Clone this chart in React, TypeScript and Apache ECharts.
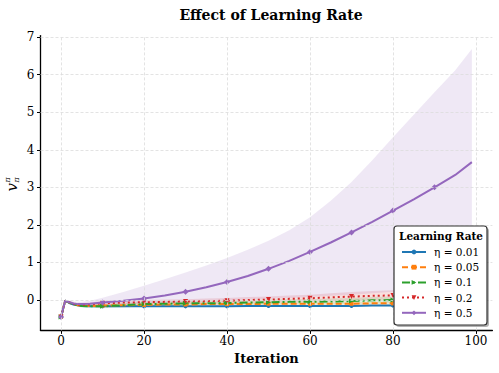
import React, { useEffect, useRef } from "react";
import * as echarts from "echarts";

// Iterations
const xs = [0, 1, 2, 3, 4, 5, 7, 10, 15, 20, 25, 30, 35, 40, 45, 50, 55, 60, 65, 70, 75, 80, 85, 90, 95, 99];

const names = ["η = 0.01", "η = 0.05", "η = 0.1", "η = 0.2", "η = 0.5"];
const colors = ["#1f77b4", "#ff7f0e", "#2ca02c", "#d62728", "#9467bd"];

const mean001 = [-0.45, -0.02, -0.08, -0.12, -0.14, -0.16, -0.17, -0.17, -0.17, -0.17, -0.17, -0.17, -0.17, -0.17, -0.16, -0.16, -0.16, -0.16, -0.16, -0.16, -0.15, -0.15, -0.15, -0.15, -0.15, -0.15];
const lo001 = [-0.45, -0.03, -0.1, -0.14, -0.16, -0.18, -0.19, -0.19, -0.19, -0.19, -0.19, -0.19, -0.19, -0.19, -0.18, -0.18, -0.18, -0.18, -0.18, -0.18, -0.17, -0.17, -0.17, -0.17, -0.17, -0.17];
const hi001 = [-0.45, -0.01, -0.06, -0.1, -0.12, -0.14, -0.15, -0.15, -0.15, -0.15, -0.15, -0.15, -0.15, -0.15, -0.14, -0.14, -0.14, -0.14, -0.14, -0.14, -0.13, -0.13, -0.13, -0.13, -0.13, -0.13];

const mean005 = [-0.45, -0.02, -0.07, -0.11, -0.14, -0.15, -0.16, -0.15, -0.14, -0.13, -0.12, -0.12, -0.11, -0.11, -0.11, -0.1, -0.1, -0.1, -0.1, -0.1, -0.09, -0.09, -0.09, -0.09, -0.09, -0.09];
const lo005 = [-0.45, -0.04, -0.1, -0.14, -0.17, -0.18, -0.19, -0.19, -0.18, -0.17, -0.16, -0.16, -0.15, -0.15, -0.15, -0.14, -0.14, -0.14, -0.14, -0.14, -0.13, -0.13, -0.13, -0.13, -0.13, -0.13];
const hi005 = [-0.45, 0.0, -0.04, -0.08, -0.11, -0.12, -0.13, -0.11, -0.1, -0.09, -0.08, -0.08, -0.07, -0.07, -0.07, -0.06, -0.06, -0.06, -0.06, -0.06, -0.05, -0.05, -0.05, -0.05, -0.05, -0.05];

const mean01 = [-0.45, -0.02, -0.07, -0.11, -0.14, -0.16, -0.17, -0.17, -0.14, -0.11, -0.1, -0.09, -0.09, -0.08, -0.07, -0.06, -0.05, -0.05, -0.04, -0.03, -0.01, 0.0, 0.01, 0.02, 0.02, 0.03];
const lo01 = [-0.45, -0.04, -0.1, -0.14, -0.18, -0.2, -0.21, -0.22, -0.2, -0.17, -0.16, -0.15, -0.15, -0.14, -0.14, -0.13, -0.12, -0.12, -0.12, -0.11, -0.1, -0.09, -0.09, -0.08, -0.08, -0.08];
const hi01 = [-0.45, 0.0, -0.04, -0.08, -0.1, -0.12, -0.13, -0.12, -0.08, -0.05, -0.04, -0.03, -0.03, -0.02, 0.0, 0.01, 0.02, 0.02, 0.04, 0.05, 0.08, 0.09, 0.11, 0.12, 0.12, 0.14];

const mean02 = [-0.45, -0.02, -0.06, -0.1, -0.12, -0.13, -0.12, -0.09, -0.07, -0.06, -0.05, -0.04, -0.03, -0.02, 0.0, 0.01, 0.03, 0.045, 0.07, 0.09, 0.11, 0.12, 0.14, 0.15, 0.16, 0.17];
const lo02 = [-0.45, -0.04, -0.1, -0.14, -0.16, -0.18, -0.17, -0.15, -0.13, -0.12, -0.11, -0.1, -0.1, -0.09, -0.08, -0.07, -0.06, -0.05, -0.04, -0.03, -0.02, -0.02, -0.01, 0.0, 0.0, 0.0];
const hi02 = [-0.45, 0.0, -0.02, -0.06, -0.08, -0.08, -0.07, -0.03, -0.01, 0.0, 0.01, 0.02, 0.04, 0.05, 0.08, 0.09, 0.12, 0.14, 0.18, 0.21, 0.24, 0.26, 0.29, 0.3, 0.32, 0.34];

const mean05 = [-0.45, -0.02, -0.06, -0.09, -0.11, -0.11, -0.1, -0.07, -0.02, 0.04, 0.12, 0.22, 0.34, 0.48, 0.64, 0.83, 1.04, 1.28, 1.53, 1.8, 2.08, 2.38, 2.68, 3.0, 3.33, 3.67];
const lo05 = [-0.45, -0.03, -0.1, -0.13, -0.14, -0.14, -0.13, -0.12, -0.1, -0.09, -0.07, -0.05, -0.03, -0.01, 0.01, 0.03, 0.05, 0.08, 0.11, 0.14, 0.18, 0.22, 0.27, 0.31, 0.36, 0.4];
const hi05 = [-0.44, 0.0, -0.02, -0.04, -0.05, -0.05, -0.02, 0.06, 0.21, 0.38, 0.55, 0.73, 0.92, 1.12, 1.34, 1.58, 1.86, 2.2, 2.64, 3.14, 3.72, 4.33, 4.93, 5.53, 6.12, 6.68];

const means = [mean001, mean005, mean01, mean02, mean05];
const lows = [lo001, lo005, lo01, lo02, lo05];
const highs = [hi001, hi005, hi01, hi02, hi05];

const xTicks = [0, 20, 40, 60, 80, 100];
const yTicks = [0, 1, 2, 3, 4, 5, 6, 7];

const symbols = ["circle", "rect", "triangle", "triangle", "diamond"];
const symbolRotates = [0, 0, -90, 180, 0];
const symbolSizes = [4, 4, 5, 5, 6];
const dashes: any[] = ["solid", [6, 3], [8, 3, 2, 3], [2, 3], "solid"];

const SERIF = "'DejaVu Serif', serif";

function hexToRgba(hex: string, a: number) {
  const r = parseInt(hex.slice(1, 3), 16);
  const g = parseInt(hex.slice(3, 5), 16);
  const b = parseInt(hex.slice(5, 7), 16);
  return `rgba(${r},${g},${b},${a})`;
}

export default function App() {
  const ref = useRef<HTMLDivElement>(null);
  useEffect(() => {
    if (!ref.current) return;
    const chart = echarts.init(ref.current, null, { renderer: "svg" });

    const bandSeries = names.map((n, k) => ({
      type: "custom",
      name: "band " + n,
      z: 1,
      silent: true,
      data: xs.map((x, i) => [x, lows[k][i], highs[k][i]]),
      encode: { x: 0, y: [1, 2] },
      renderItem: (params: any, api: any) => {
        if (params.dataIndex !== 0) return null;
        const pts: number[][] = [];
        for (let i = 0; i < xs.length; i++) pts.push(api.coord([xs[i], highs[k][i]]));
        for (let i = xs.length - 1; i >= 0; i--) pts.push(api.coord([xs[i], lows[k][i]]));
        return {
          type: "polygon",
          shape: { points: pts },
          style: { fill: hexToRgba(colors[k], 0.15), stroke: "none" },
        };
      },
    }));

    const lineSeries = names.map((n, k) => ({
      type: "line",
      name: n,
      z: 3,
      color: colors[k],
      symbol: symbols[k],
      symbolRotate: symbolRotates[k],
      symbolSize: symbolSizes[k],
      showAllSymbol: true,
      lineStyle: { width: 2, type: dashes[k], color: colors[k] },
      itemStyle: { color: colors[k] },
      data: xs.map((x, i) =>
        x % 10 === 0 ? { value: [x, means[k][i]] } : { value: [x, means[k][i]], symbol: "none" }
      ),
    }));

    const gridStyle = { color: "#dcdcdc", type: [3, 2], width: 0.8 };
    const gridSeries = {
      type: "line",
      name: "grid",
      z: 0,
      silent: true,
      symbol: "none",
      lineStyle: { opacity: 0 },
      data: [[0, 0]],
      markLine: {
        silent: true,
        symbol: ["none", "none"],
        label: { show: false },
        lineStyle: gridStyle,
        animation: false,
        data: [
          ...xTicks.map((v) => ({ xAxis: v })),
          ...yTicks.map((v) => ({ yAxis: v })),
        ],
      },
    };

    chart.setOption({
      animation: false,
      backgroundColor: "#ffffff",
      title: {
        text: "Effect of Learning Rate",
        left: 266,
        top: 3,
        textAlign: "center",
        textStyle: { fontFamily: SERIF, fontWeight: "bold", fontSize: 14, color: "#000" },
      },
      grid: {
        left: 40.5,
        right: 6.6,
        top: 35.6,
        bottom: 42.6,
        containLabel: false,
        outerBoundsMode: "none",
      },
      xAxis: {
        type: "value",
        min: -4.95,
        max: 103.95,
        splitNumber: 5,
        name: "Iteration",
        nameLocation: "middle",
        nameGap: 20,
        nameTextStyle: { fontFamily: SERIF, fontWeight: "bold", fontSize: 13, color: "#000" },
        axisLine: { show: true, onZero: false, lineStyle: { color: "#000", width: 1.3 } },
        axisTick: { show: true, length: 3.5, customValues: xTicks, lineStyle: { color: "#000", width: 1 } },
        axisLabel: {
          customValues: xTicks,
          margin: 5,
          fontFamily: SERIF,
          fontSize: 12,
          color: "#000",
        },
        splitLine: { show: false },
      },
      yAxis: {
        type: "value",
        min: -0.81,
        max: 7.04,
        splitNumber: 8,
        axisLine: { show: true, onZero: false, lineStyle: { color: "#000", width: 1.3 } },
        axisTick: { show: true, length: 3.5, customValues: yTicks, lineStyle: { color: "#000", width: 1 } },
        axisLabel: {
          customValues: yTicks,
          margin: 6,
          fontFamily: SERIF,
          fontSize: 12,
          color: "#000",
        },
        splitLine: { show: false },
      },
      legend: {
        show: true,
        orient: "vertical",
        left: 401,
        top: 246.5,
        padding: 0,
        z: 20,
        itemWidth: 24,
        itemHeight: 6,
        itemGap: 4.2,
        data: names,
        textStyle: { fontFamily: SERIF, fontSize: 10.5, color: "#000", padding: [0, 0, 0, 3] },
      },
      graphic: [
        {
          type: "rect",
          z: 15,
          shape: { x: 396, y: 228, width: 93, height: 99, r: 3 },
          style: { fill: "rgba(0,0,0,0.3)" },
        },
        {
          type: "rect",
          z: 16,
          shape: { x: 394, y: 226, width: 93, height: 99, r: 3 },
          style: { fill: "#ffffff", stroke: "#333333", lineWidth: 1.2 },
        },
        {
          type: "text",
          z: 21,
          x: 441,
          y: 236,
          style: {
            text: "Learning Rate",
            font: `bold 10.5px ${SERIF}`,
            fill: "#000",
            align: "center",
            verticalAlign: "middle",
          },
        },
        {
          type: "group",
          x: 12,
          y: 184,
          rotation: Math.PI / 2,
          children: [
            {
              type: "text",
              x: 1,
              y: 0,
              style: { text: "v", font: `italic 15px ${SERIF}`, fill: "#000", align: "right", verticalAlign: "middle" },
            },
            {
              type: "text",
              x: 1.5,
              y: -4.5,
              style: { text: "π", font: `italic 8px ${SERIF}`, fill: "#000", align: "left", verticalAlign: "middle" },
            },
            {
              type: "text",
              x: 1.5,
              y: 4,
              style: { text: "π", font: `italic 8px ${SERIF}`, fill: "#000", align: "left", verticalAlign: "middle" },
            },
          ],
        },
      ],
      series: [gridSeries, ...bandSeries, ...lineSeries],
    });

    return () => chart.dispose();
  }, []);

  return <div ref={ref} style={{ width: 499, height: 373, position: "absolute", left: 0, top: 0 }} />;
}
